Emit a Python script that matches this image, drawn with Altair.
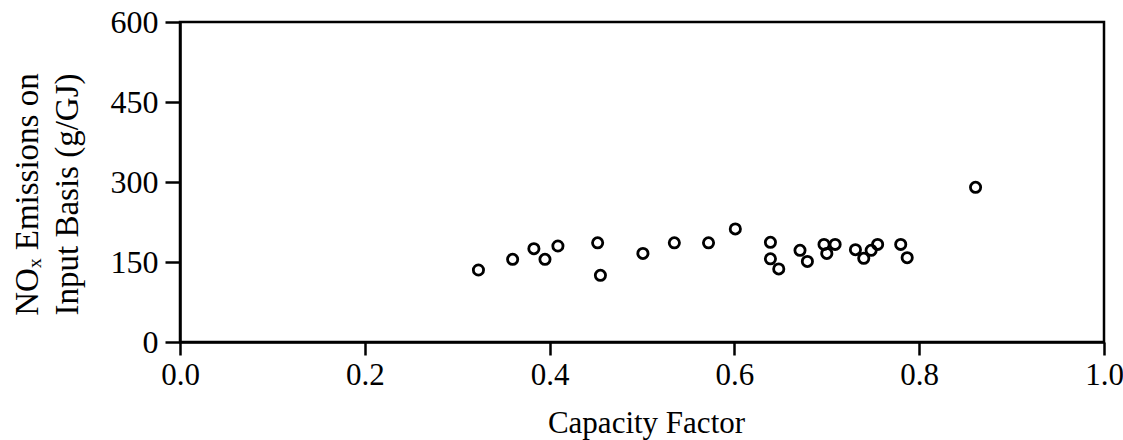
import altair as alt
import pandas as pd

capacity_factor = [0.323, 0.360, 0.383, 0.395, 0.409, 0.452, 0.455, 0.501, 0.535, 0.572,
                   0.601, 0.639, 0.639, 0.648, 0.671, 0.679, 0.697, 0.700, 0.709, 0.731,
                   0.740, 0.748, 0.755, 0.780, 0.787, 0.861]
nox_emissions = [135, 155, 175, 155, 180, 186, 125, 166, 186, 186,
                 212, 187, 156, 137, 172, 151, 183, 166, 183, 173,
                 157, 172, 183, 183, 158, 290]

x_ticks = [0.0, 0.2, 0.4, 0.6, 0.8, 1.0]
y_ticks = [0, 150, 300, 450, 600]

df = pd.DataFrame({"cf": capacity_factor, "nox": nox_emissions})

FONT = "Liberation Serif"

chart = alt.Chart(df).mark_point(
    shape="circle", filled=False, color="black", size=105, strokeWidth=2.8, opacity=1
).encode(
    x=alt.X("cf:Q",
            scale=alt.Scale(domain=[0, 1], nice=False, zero=False),
            axis=alt.Axis(values=x_ticks, format=".1f", title="Capacity Factor",
                          grid=False, domainColor="black", domainWidth=2.5,
                          tickColor="black", tickWidth=2.5, tickSize=13,
                          labelFont=FONT, labelFontSize=31, labelColor="black",
                          labelPadding=5, labelFlush=False,
                          titleFont=FONT, titleFontSize=31, titleFontWeight="normal",
                          titleColor="black", titleBaseline="alphabetic",
                          titleX=466, titleY=90)),
    y=alt.Y("nox:Q",
            scale=alt.Scale(domain=[0, 600], nice=False),
            axis=alt.Axis(values=y_ticks, title=["NOₓ Emissions on", "Input Basis (g/GJ)"],
                          grid=False, domainColor="black", domainWidth=2.5,
                          tickColor="black", tickWidth=2.5, tickSize=15,
                          labelFont=FONT, labelFontSize=32, labelColor="black",
                          labelPadding=7, labelFlush=False,
                          titleFont=FONT, titleFontSize=33, titleFontWeight="normal",
                          titleColor="black", titleAngle=270, titleBaseline="bottom",
                          titleAlign="center", titleLineHeight=40,
                          titleX=-136, titleY=172)),
).properties(
    width=924, height=320,
    autosize=alt.AutoSizeParams(type="none"),
    padding={"left": 180, "top": 22, "right": 19, "bottom": 98},
    background="white",
).configure_view(
    stroke="black", strokeWidth=2.5
)

chart.save("out.html", embed_options={"renderer": "svg", "actions": False})
